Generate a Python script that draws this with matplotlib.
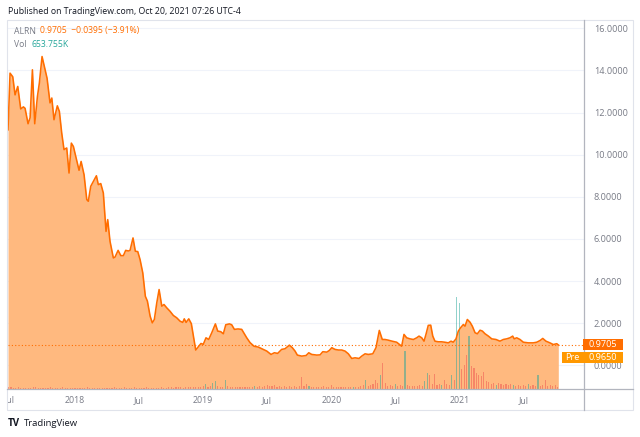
import matplotlib
matplotlib.use('Agg')
import matplotlib.pyplot as plt
import matplotlib.transforms as mtransforms
from matplotlib.patches import Rectangle
from matplotlib.lines import Line2D
import numpy as np

plt.rcParams['font.family'] = ['Open Sans', 'DejaVu Sans']

# price (weekly-ish samples), time in fractional years
price_t = [
    2017.482, 2017.498, 2017.519, 2017.537, 2017.558, 2017.581, 2017.602, 2017.615, 2017.638, 2017.654,
    2017.672, 2017.690, 2017.711, 2017.726, 2017.747, 2017.765, 2017.786, 2017.809, 2017.823, 2017.840,
    2017.866, 2017.882, 2017.900, 2017.918, 2017.939, 2017.957, 2017.975, 2017.991, 2018.012, 2018.035,
    2018.051, 2018.074, 2018.095, 2018.107, 2018.126, 2018.146, 2018.170, 2018.185, 2018.204, 2018.224,
    2018.245, 2018.258, 2018.276, 2018.302, 2018.315, 2018.339, 2018.360, 2018.380, 2018.398, 2018.419,
    2018.432, 2018.455, 2018.473, 2018.492, 2018.510, 2018.531, 2018.551, 2018.567, 2018.588, 2018.605,
    2018.621, 2018.640, 2018.658, 2018.679, 2018.696, 2018.718, 2018.743, 2018.769, 2018.795, 2018.821,
    2018.842, 2018.854, 2018.868, 2018.889, 2018.909, 2018.925, 2018.943, 2018.963, 2018.984, 2019.002,
    2019.023, 2019.044, 2019.068, 2019.096, 2019.114, 2019.138, 2019.158, 2019.177, 2019.205, 2019.223,
    2019.244, 2019.272, 2019.301, 2019.340, 2019.366, 2019.397, 2019.430, 2019.457, 2019.496, 2019.529,
    2019.555, 2019.581, 2019.612, 2019.638, 2019.672, 2019.695, 2019.716, 2019.734, 2019.768, 2019.802,
    2019.823, 2019.846, 2019.885, 2019.911, 2019.932, 2019.963, 2019.983, 2020.002, 2020.027, 2020.053,
    2020.079, 2020.105, 2020.131, 2020.157, 2020.183, 2020.214, 2020.235, 2020.261, 2020.286, 2020.321,
    2020.346, 2020.372, 2020.395, 2020.416, 2020.440, 2020.471, 2020.507, 2020.546, 2020.564, 2020.585,
    2020.611, 2020.637, 2020.663, 2020.681, 2020.702, 2020.720, 2020.735, 2020.753, 2020.772, 2020.788,
    2020.805, 2020.831, 2020.856, 2020.882, 2020.909, 2020.930, 2020.947, 2020.969, 2020.987, 2021.005,
    2021.026, 2021.039, 2021.057, 2021.078, 2021.096, 2021.117, 2021.135, 2021.156, 2021.174, 2021.195,
    2021.221, 2021.247, 2021.280, 2021.311, 2021.337, 2021.363, 2021.389, 2021.410, 2021.422, 2021.441,
    2021.467, 2021.493, 2021.532, 2021.570, 2021.597, 2021.623, 2021.644, 2021.669, 2021.700, 2021.726,
    2021.753, 2021.765,
]
price = [
    11.18, 13.87, 13.70, 12.84, 13.24, 12.17, 12.27, 12.20, 11.47, 11.75,
    14.03, 11.47, 12.76, 13.40, 14.66, 14.19, 13.63, 12.46, 12.69, 11.66,
    12.32, 12.05, 11.03, 10.24, 10.32, 9.13, 10.55, 10.39, 9.84, 9.26,
    9.68, 9.05, 7.87, 7.79, 8.50, 8.73, 9.00, 8.58, 8.63, 8.18,
    6.36, 6.92, 5.89, 5.10, 5.14, 5.46, 5.21, 5.21, 5.46, 5.43,
    5.46, 6.05, 5.42, 5.40, 5.02, 4.39, 3.28, 3.05, 2.34, 2.02,
    2.18, 2.97, 3.60, 2.81, 2.89, 2.73, 2.57, 2.37, 2.26, 2.10,
    2.04, 2.21, 2.04, 2.21, 1.98, 1.39, 0.73, 0.88, 1.04, 1.00,
    1.31, 1.23, 1.55, 1.97, 1.63, 1.60, 1.50, 1.93, 1.97, 1.93,
    1.71, 1.73, 1.71, 1.31, 1.08, 0.91, 0.87, 0.79, 0.68, 0.52,
    0.60, 0.57, 0.76, 0.79, 0.96, 0.84, 0.68, 0.49, 0.44, 0.47,
    0.60, 0.52, 0.49, 0.50, 0.65, 0.63, 0.71, 0.84, 0.76, 0.73,
    0.73, 0.68, 0.55, 0.33, 0.36, 0.33, 0.44, 0.55, 0.52, 0.55,
    0.84, 1.66, 1.23, 1.23, 1.20, 1.15, 1.10, 0.91, 1.47, 1.31,
    1.26, 1.23, 1.31, 1.39, 1.31, 1.15, 1.47, 1.90, 1.91, 1.39,
    1.15, 1.12, 1.12, 1.10, 1.07, 1.15, 1.10, 1.26, 1.63, 1.79,
    1.94, 1.86, 2.18, 2.05, 1.86, 1.55, 1.50, 1.67, 1.63, 1.50,
    1.39, 1.26, 1.23, 1.15, 1.23, 1.26, 1.31, 1.39, 1.26, 1.31,
    1.23, 1.10, 1.07, 1.07, 1.10, 1.18, 1.28, 1.15, 1.07, 0.99,
    1.03, 0.9705,
]

# weekly volume (millions), first week starts at vol_start
vol_start = 2017.482
volume = [
    1.5, 2, 1, 1, 1.5, 1, 1, 1, 1, 1, 1.5, 2, 1, 1, 1, 1, 1, 1.5, 1, 1,
    1, 1, 1.5, 1, 1, 1, 1, 1, 1, 1, 1, 1, 1.5, 1, 1, 1, 1, 1, 1, 1,
    1, 1, 1, 1.5, 1, 1, 1, 1.5, 1, 1, 1, 1.5, 1, 1, 1, 1, 1.5, 1, 1, 1,
    1, 1, 1.5, 1, 1, 1.5, 2, 1, 1.5, 2, 1.5, 1, 1.5, 2, 1.5, 2, 1.5, 2, 2, 2.5,
    5, 2, 3, 6, 8, 3, 2, 2, 8.7, 3, 2, 1.5, 2, 1.5, 1.5, 2, 1.5, 2, 2, 2,
    3, 2, 3, 2, 3, 4.3, 3, 2.5, 3.6, 2, 3, 2, 2.5, 2, 2.5, 2, 3, 2, 2.5, 11.7,
    3, 5, 3, 2, 2, 2, 2, 1.5, 3, 2, 2, 4, 2, 2, 1.5, 1.5, 2, 2, 2, 1.5,
    1.5, 2, 2, 3, 4, 8.7, 3, 4, 5, 9.3, 6, 14.3, 26, 6, 3, 4, 3, 5, 3, 4,
    3, 37.7, 4, 3, 3, 2.5, 3, 4, 3, 7.7, 16, 14.3, 5, 15.3, 4, 5, 4, 9, 5, 4,
    13.7, 9, 92, 86, 20, 24, 34, 53, 23, 21, 16, 14, 13, 17, 8, 7, 5, 6, 4, 6,
    5, 4, 5, 4, 5, 4, 3, 4, 3, 4, 3, 5, 3, 4, 3, 14.3, 3, 4, 8.7, 3, 4, 3, 4, 2,
]
up_weeks = [80, 83, 84, 88, 100, 122, 140, 145, 151, 157, 161, 169, 170, 176,
            180, 182, 183, 187, 198, 205, 211, 215]

x_ticks = [2018.0, 2018.496, 2019.0, 2019.496, 2020.0, 2020.496, 2021.0, 2021.496]
x_labels = ['2018', 'Jul', '2019', 'Jul', '2020', 'Jul', '2021', 'Jul']
y_ticks = [0, 2, 4, 6, 8, 10, 12, 14, 16]

last_price = 0.9705
pre_price = 0.9650

W, H = 640, 437
LINE = '#FF6D00'
FILL = '#FFB97F'
GRAY = '#787B86'

fig = plt.figure(figsize=(W / 100, H / 100), dpi=100)
fig.patch.set_facecolor('white')


def fx(px):
    return px / W


def fy(py):
    return 1 - py / H


left, right, top, bottom = 8, 584, 20.7, 389
rect = [fx(left), fy(bottom), fx(right - left), (bottom - top) / H]

ax = fig.add_axes(rect)
axv = ax.twinx()
axl = ax.twinx()

xlim = (2017.482, 2021.965)
ylim = (-1.12, 16.36)
for a in (ax, axl):
    a.set_xlim(*xlim)
    a.set_ylim(*ylim)
axv.set_xlim(*xlim)

# price area
ax.fill_between(price_t, price, ylim[0], color=FILL, lw=0)
ax.set_yticks(y_ticks)
ax.set_yticklabels([f'{v:.4f}' for v in y_ticks])
ax.yaxis.tick_right()
ax.tick_params(axis='y', length=0, pad=7, labelsize=6.6, labelcolor=GRAY)
ax.grid(axis='y', color='#F0F3FA', lw=0.8)
ax.set_axisbelow(True)
ax.set_xticks(x_ticks)
ax.set_xticklabels(x_labels)
ax.tick_params(axis='x', length=0, pad=5, labelsize=6.3, labelcolor=GRAY)
for s in ax.spines.values():
    s.set_visible(False)

# clipped "Jul" of 2017 at the left edge
blend = mtransforms.blended_transform_factory(ax.transData, ax.transAxes)
t = ax.text(2017.496, -0.03, 'Jul', transform=blend, ha='center', va='center',
            fontsize=6.3, color=GRAY, clip_on=True)
t.set_clip_box(mtransforms.TransformedBbox(mtransforms.Bbox([[0, -0.2], [1, 0]]), ax.transAxes))

# volume
week = 7 / 365.25
vol_x = [vol_start + i * week for i in range(len(volume))]
vol_c = ['#26A69A' if i in up_weeks else '#EF5350' for i in range(len(volume))]
axv.bar(vol_x, volume, width=week * 0.45, color=vol_c, alpha=0.5, align='edge', lw=0)
axv.set_ylim(0, max(volume) * 4.0)
axv.set_yticks([])
for s in axv.spines.values():
    s.set_visible(False)

# price line
axl.plot(price_t, price, color=LINE, lw=1.15, solid_joinstyle='round')
axl.axhline(last_price, color=LINE, lw=0.8, ls=(0, (1, 2)))
axl.set_yticks([])
for s in axl.spines.values():
    s.set_visible(False)

# frame and separators
frame = Rectangle((fx(7), fy(410)), fx(626), 390 / H, transform=fig.transFigure,
                  fill=False, ec='#E0E3EB', lw=0.8)
fig.add_artist(frame)
fig.add_artist(Line2D([fx(584), fx(584)], [fy(20), fy(410)], color='#B2B5BE', lw=0.9))
fig.add_artist(Line2D([fx(7), fx(633)], [fy(389), fy(389)], color='#B2B5BE', lw=0.9))

# price labels on scale
bt = mtransforms.blended_transform_factory(fig.transFigure, axl.transData)
box_h = 11 / 21.07
gap = 12.5 / 21.07
fig.add_artist(Rectangle((fx(583), last_price - box_h / 2), fx(40), box_h,
                         transform=bt, color='#FF6D00', lw=0, zorder=3))
fig.text(fx(603), last_price, f'{last_price:.4f}', transform=bt, ha='center', va='center',
         fontsize=6.6, color='white', zorder=4)
pre_y = last_price - gap
fig.add_artist(Rectangle((fx(583), pre_y - box_h / 2), fx(40), box_h,
                         transform=bt, color='#FF9800', lw=0, zorder=3))
fig.add_artist(Rectangle((fx(562), pre_y - box_h / 2), fx(20.5), box_h,
                         transform=bt, color='#FF9800', lw=0, zorder=3))
fig.text(fx(603), pre_y, f'{pre_price:.4f}', transform=bt, ha='center', va='center',
         fontsize=6.6, color='white', zorder=4)
fig.text(fx(572), pre_y, 'Pre', transform=bt, ha='center', va='center',
         fontsize=6.6, color='white', zorder=4)

# header and legend
fig.text(fx(8), fy(11), 'Published on TradingView.com, Oct 20, 2021 07:26 UTC-4',
         fontsize=6.3, color='#131722', va='center')
fig.text(fx(14), fy(31), 'ALRN', fontsize=6.2, color=GRAY, va='center')
fig.text(fx(40), fy(31), '0.9705  \u22120.0395 (\u22123.91%)', fontsize=6.2, color='#FF6D00', va='center')
fig.text(fx(14), fy(44.5), 'Vol', fontsize=6.2, color=GRAY, va='center')
fig.text(fx(31), fy(44.5), '653.755K', fontsize=6.2, color='#26A69A', va='center')

# footer logo
fig.text(fx(8), fy(423), 'TV', fontsize=7, fontweight='bold', color='#131722', va='center')
fig.text(fx(24), fy(423), 'TradingView', fontsize=6.8, color='#131722', va='center')

fig.savefig('out.png', dpi=100, facecolor='white')
